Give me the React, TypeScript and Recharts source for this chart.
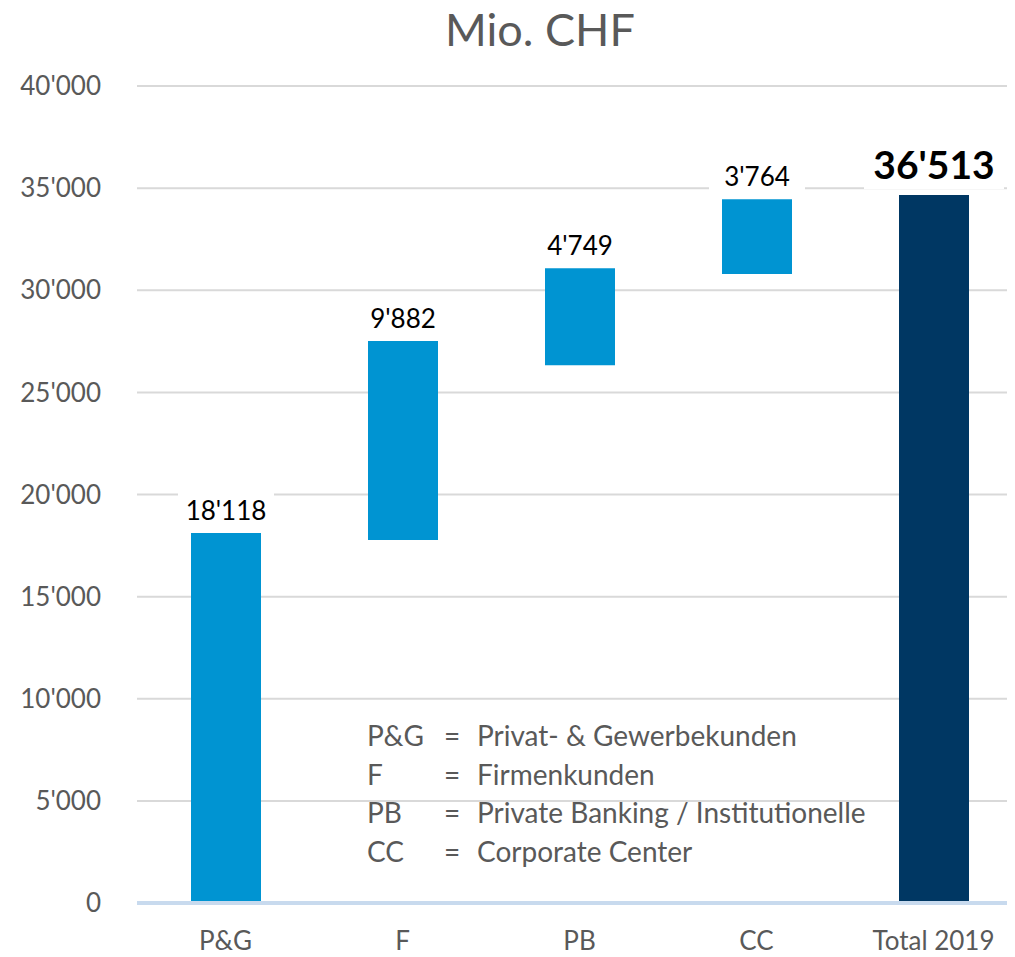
import { BarChart, Bar, XAxis, YAxis, CartesianGrid, Cell, LabelList } from 'recharts';

const categories = ['P&G', 'F', 'PB', 'CC', 'Total 2019'];
const barLow = [0, 17770, 26330, 30790, 0];
const barHigh = [18118, 27510, 31080, 34460, 34660];
const barLabels = ["18'118", "9'882", "4'749", "3'764", "36'513"];
const yTicks = [0, 5000, 10000, 15000, 20000, 25000, 30000, 35000, 40000];
const glossary = [
  ['P&G', 'Privat- & Gewerbekunden'],
  ['F', 'Firmenkunden'],
  ['PB', 'Private Banking / Institutionelle'],
  ['CC', 'Corporate Center'],
];

const LIGHT = '#0094d2';
const DARK = '#003763';
const FONT = 'Lato, "Open Sans", sans-serif';

const data = categories.map((name, i) => ({
  name,
  range: [barLow[i], barHigh[i]],
}));

const fmt = (v: number) => String(v).replace(/\B(?=(\d{3})+(?!\d))/g, "'");

function BarLabel(props: any) {
  const { x, y, width, index } = props;
  const isTotal = index === categories.length - 1;
  const cx = x + width / 2;
  const boxW = isTotal ? 140 : 96;
  const boxH = isTotal ? 50 : 40;
  const cy = isTotal ? y - 31 : y - 23;
  return (
    <g>
      <rect x={cx - boxW / 2} y={cy - boxH / 2} width={boxW} height={boxH} fill="#fff" />
      <text
        x={cx}
        y={cy}
        textAnchor="middle"
        dominantBaseline="central"
        fontFamily={FONT}
        fontSize={isTotal ? 39 : 26}
        fontWeight={isTotal ? 700 : 400}
        fill="#000"
      >
        {barLabels[index]}
      </text>
    </g>
  );
}

export default function App() {
  return (
    <div style={{ position: 'relative', width: 999, height: 949, fontFamily: FONT }}>
      <div style={{ width: 999, height: 949, overflowX: 'clip' }}>
        <BarChart
          width={1014}
          height={949}
          data={data}
          margin={{ top: 78, right: 0, bottom: 0, left: 0 }}
          barSize={70}
        >
          <CartesianGrid vertical={false} stroke="#d9d9d9" strokeWidth={2} />
          <XAxis
            dataKey="name"
            height={54}
            tickLine={false}
            axisLine={{ stroke: '#c8daee', strokeWidth: 4 }}
            tick={{ fontSize: 26, fill: '#595959', fontFamily: FONT }}
            tickMargin={23}
          />
          <YAxis
            width={129}
            domain={[0, 40000]}
            ticks={yTicks}
            tickFormatter={fmt}
            axisLine={false}
            tickLine={false}
            tickSize={0}
            tickMargin={36}
            tick={{ fontSize: 26, fill: '#595959', fontFamily: FONT }}
          />
          <Bar dataKey="range" isAnimationActive={false}>
            {data.map((_, i) => (
              <Cell key={i} fill={i === categories.length - 1 ? DARK : LIGHT} />
            ))}
            <LabelList dataKey="range" content={<BarLabel />} />
          </Bar>
        </BarChart>
      </div>
      <div
        style={{
          position: 'absolute',
          top: -6,
          left: 372,
          width: 320,
          textAlign: 'center',
          fontSize: 45,
          color: '#595959',
        }}
      >
        Mio. CHF
      </div>
      <div
        style={{
          position: 'absolute',
          left: 359,
          top: 708,
          fontSize: 28,
          color: '#595959',
          lineHeight: '38.7px',
        }}
      >
        {glossary.map(([abbr, text]) => (
          <div key={abbr} style={{ display: 'flex' }}>
            <span style={{ width: 77 }}>{abbr}</span>
            <span style={{ width: 33 }}>=</span>
            <span>{text}</span>
          </div>
        ))}
      </div>
    </div>
  );
}
